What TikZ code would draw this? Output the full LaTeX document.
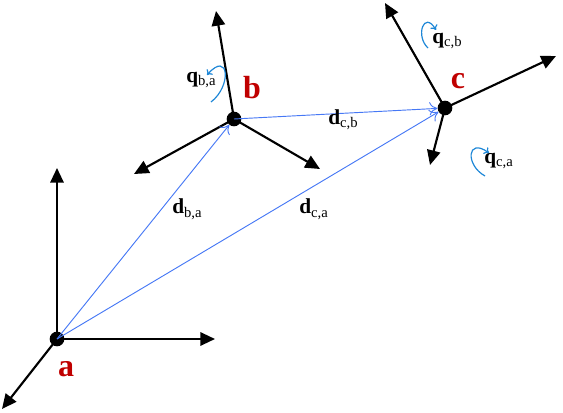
\documentclass[tikz,border=0pt]{standalone}
\usepackage{fontspec}
\setmainfont{Liberation Serif}
\usetikzlibrary{arrows.meta}
\definecolor{ptred}{RGB}{192,0,0}
\definecolor{vecblue}{RGB}{70,120,245}
\definecolor{rotblue}{RGB}{30,135,215}
\tikzset{
  axis/.style={line width=1.6pt,-{Triangle[length=11pt,width=10pt]}},
  vec/.style={draw=vecblue,line width=0.7pt,-{To[length=6pt,width=10pt]}},
  rot/.style={draw=rotblue,line width=0.9pt,-{To[length=3.5pt,width=6pt]}},
  pt/.style={circle,fill=black,inner sep=0pt,minimum size=11pt},
  ptlab/.style={text=ptred,font=\fontsize{24}{24}\selectfont\bfseries,inner sep=0pt},
  qlab/.style={font=\fontsize{16}{16}\selectfont,inner sep=0pt}
}
\newcommand{\lab}[2]{\textbf{#1}\textsubscript{\fontsize{11}{11}\selectfont #2}}
\begin{document}
\begin{tikzpicture}[x=0.75pt,y=-0.75pt]
\useasboundingbox (0,0) rectangle (563,413);
% points
\node[pt] (a) at (57,339) {};
\node[pt] (b) at (234,119) {};
\node[pt] (c) at (445,108) {};
% axis end coordinates
\coordinate (a1) at (57,168);
\coordinate (a2) at (215,339);
\coordinate (a3) at (2,409);
\coordinate (b1) at (216,11);
\coordinate (b2) at (134,174);
\coordinate (b3) at (320,169);
\coordinate (c1) at (385,3);
\coordinate (c2) at (556,56);
\coordinate (c3) at (430,165);
% axes
\draw[axis] (a.center) -- (a1);
\draw[axis] (a.center) -- (a2);
\draw[axis] (a.center) -- (a3);
\draw[axis] (b.center) -- (b1);
\draw[axis] (b.center) -- (b2);
\draw[axis] (b.center) -- (b3);
\draw[axis] (c.center) -- (c1);
\draw[axis] (c.center) -- (c2);
\draw[axis] (c.center) -- (c3);
% vectors
\draw[vec] (a.center) -- (b);
\draw[vec] (a.center) -- (c);
\draw[vec] (b.center) -- (c);
% point labels
\node[ptlab] (la) at (66,369) {a};
\node[ptlab] (lb) at (252,88) {b};
\node[ptlab] (lc) at (458,81) {c};
% distance labels
\node[qlab,anchor=west] (dba) at (172,209) {\lab{d}{b,a}};
\node[qlab,anchor=west] (dca) at (299,209) {\lab{d}{c,a}};
\node[qlab,anchor=west] (dcb) at (328,120) {\lab{d}{c,b}};
% rotation labels
\node[qlab,anchor=west] (qba) at (186,80) {\lab{q}{b,a}};
\node[qlab,anchor=west] (qcb) at (432,41) {\lab{q}{c,b}};
\node[qlab,anchor=west] (qca) at (484,161) {\lab{q}{c,a}};
% rotation arrows
\draw[rot] (211,102) .. controls (232,86) and (229,50) .. (207,75);
\draw[rot] (428,48) .. controls (415,36) and (424,10) .. (436,30);
\draw[rot] (485,176) .. controls (465,165) and (467,137) .. (489,153);
\end{tikzpicture}
\end{document}
